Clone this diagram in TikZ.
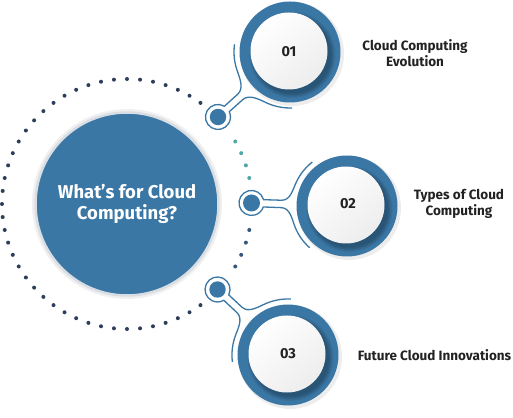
\documentclass[tikz,border=0pt]{standalone}
\usepackage{fontspec}
\setmainfont{Fira Sans}
\usetikzlibrary{calc}
\definecolor{mainblue}{HTML}{3B77A5}
\definecolor{navydot}{HTML}{2C3E5A}
\definecolor{lowdot}{HTML}{34557C}
\definecolor{tealdot}{HTML}{4FA8A5}
\definecolor{txt}{HTML}{222222}
\definecolor{rim}{HTML}{D9DEE4}
\tikzset{
  conn/.style={draw=mainblue, line width=1.3pt},
  num/.style={font=\fontsize{14.5}{16}\selectfont\bfseries, text=txt},
  lbl/.style={font=\fontsize{13.5}{16.5}\selectfont\bfseries, text=txt, align=center},
  hub/.style={circle, fill=mainblue, draw=rim, line width=2.5pt, minimum size=183pt,
    inner sep=0pt, text=white, align=center, font=\fontsize{18.5}{21.5}\selectfont\bfseries},
}
\newcommand{\connector}[3]{% #1 small centre, #2 angle, #3 distance
  \begin{scope}[shift={(#1)}, rotate=#2]
    \draw[conn] (#3,0) ++(130:56) arc[start angle=130, end angle=156, radius=56]
      .. controls +(246:8) and +(0:9) .. (30,3.7) -- (11.95,3.7)
      arc[start angle=17, end angle=343, radius=12.5]
      -- (30,-3.7) .. controls +(0:9) and +(114:8) .. ($(#3,0)+(204:56)$)
      arc[start angle=204, end angle=230, radius=56];
  \end{scope}}
\newcommand{\bigdisc}[1]{%
  \fill[black, opacity=0.07] ($(#1)+(2,-2)$) circle (52);
  \fill[mainblue] (#1) circle (50.5);
  \foreach \i in {0,...,5} \fill[black, opacity=0.05] ($(#1)+(2.5,-3)$) circle ({38.5+\i*0.9});
  \shade[top color=white, bottom color=gray!14, shading angle=40] ($(#1)+(-1,1)$) circle (38.5);}
\begin{document}
\begin{tikzpicture}[x=1pt, y=1pt]
\useasboundingbox (0,0) rectangle (513,417);
\fill[white] (0,0) rectangle (513,417);

\coordinate (C0) at (127,213);
\coordinate (S1) at (218,300);
\coordinate (S2) at (251.5,214);
\coordinate (S3) at (217.5,127.5);
\coordinate (B1) at (290,365);
\coordinate (B2) at (347,211);
\coordinate (B3) at (288,62);

% dotted orbit
\foreach \a in {54,60,...,306} \fill[navydot] (C0) ++(\a:125) circle (2);
\foreach \a in {12,18,24,30} \fill[tealdot] (C0) ++(\a:125) circle (2);
\foreach \a in {330,336,342,348} \fill[lowdot] (C0) ++(\a:125) circle (2);

% hub
\fill[black, opacity=0.06] (C0) circle (95);
\node[hub] (hub) at (C0) {What’s for Cloud\\Computing?};

% connectors
\connector{S1}{42.08}{97}
\connector{S2}{-1.8}{95.5}
\connector{S3}{-42.9}{96.2}
\fill[mainblue] (S1) circle (8.2);
\fill[mainblue] (S2) circle (8.5);
\fill[mainblue] (S3) circle (8.2);

% big discs
\bigdisc{B1}
\bigdisc{B2}
\bigdisc{B3}
\node[num] (n1) at ($(B1)+(-1,0)$) {01};
\node[num] (n2) at ($(B2)+(1,2)$) {02};
\node[num] (n3) at ($(B3)+(0,1)$) {03};

% labels
\node[lbl] (l1) at (415,364) {Cloud Computing\\Evolution};
\node[lbl] (l2) at (459,213) {Types of Cloud\\Computing};
\node[lbl] (l3) at (434.5,62) {Future Cloud Innovations};
\end{tikzpicture}
\end{document}
